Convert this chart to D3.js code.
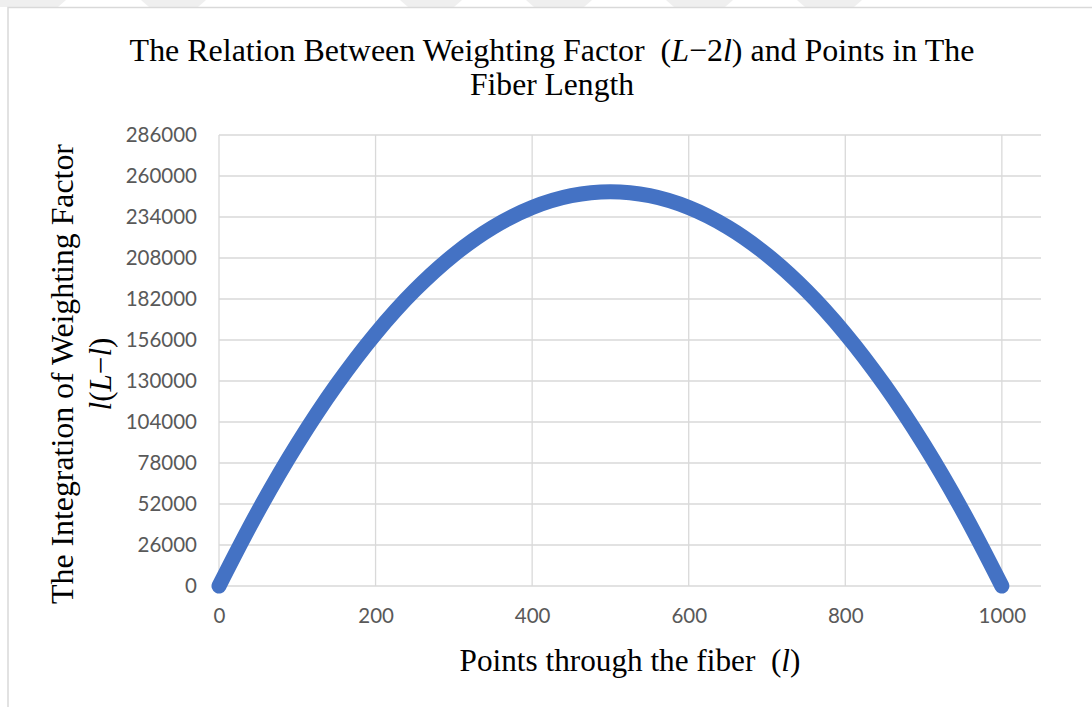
<!DOCTYPE html>
<html>
<head>
<meta charset="utf-8">
<script src="https://cdn.jsdelivr.net/npm/d3@7"></script>
<style>
  body { margin: 0; background: #fff; }
  svg { display: block; }
</style>
</head>
<body>
<div id="chart"></div>
<script>
// values: points along the fiber and l(L-l)
const points = [0, 50, 100, 150, 200, 250, 300, 350, 400, 450, 500,
                550, 600, 650, 700, 750, 800, 850, 900, 950, 1000];
const weights = [0, 47500, 90000, 127500, 160000, 187500, 210000, 227500, 240000, 247500, 250000,
                 247500, 240000, 227500, 210000, 187500, 160000, 127500, 90000, 47500, 0];
const yTicks = [0, 26000, 52000, 78000, 104000, 130000, 156000, 182000, 208000, 234000, 260000, 286000];
const xTicks = [0, 200, 400, 600, 800, 1000];

const width = 1092, height = 707;
const margin = {top: 135, right: 51, bottom: 121, left: 219};

const svg = d3.select("#chart")
  .append("svg")
  .attr("width", width)
  .attr("height", height);

// faint watermark bands above the chart border
const bands = svg.append("g").attr("fill", "#efefef");
[[-20, 60], [141, 200], [400, 456], [526, 586], [666, 727], [797, 856]].forEach(b => {
  bands.append("path").attr("d", `M${b[0]},0 L${b[1] + 6},0 L${b[1] - 2},7 L${b[0] + 8},7 Z`);
});

// chart area border
svg.append("path")
  .attr("d", `M8,${height} L8,7.5 L${width},7.5`)
  .attr("fill", "none")
  .attr("stroke", "#d9d9d9")
  .attr("stroke-width", 1.5);

const xScale = d3.scaleLinear()
  .domain([0, 1050])
  .range([margin.left, width - margin.right]);

const yScale = d3.scaleLinear()
  .domain([0, 286000])
  .range([height - margin.bottom, margin.top]);

// horizontal gridlines
svg.append("g")
  .selectAll("line")
  .data(yTicks)
  .enter()
  .append("line")
    .attr("x1", xScale(0))
    .attr("x2", xScale(1050))
    .attr("y1", d => yScale(d))
    .attr("y2", d => yScale(d))
    .attr("stroke", "#d9d9d9")
    .attr("stroke-width", 1.3);

// vertical gridlines
svg.append("g")
  .selectAll("line")
  .data(xTicks)
  .enter()
  .append("line")
    .attr("x1", d => xScale(d))
    .attr("x2", d => xScale(d))
    .attr("y1", yScale(0))
    .attr("y2", yScale(286000))
    .attr("stroke", "#d9d9d9")
    .attr("stroke-width", 1.3);

// y axis labels
const yAxis = svg.append("g")
  .attr("transform", `translate(${margin.left}, 0)`)
  .call(d3.axisLeft(yScale).tickValues(yTicks).tickSize(0).tickPadding(22).tickFormat(d3.format("d")));
yAxis.select(".domain").remove();
yAxis.selectAll("text")
  .attr("fill", "#595959")
  .attr("font-family", "Lato, 'Open Sans', sans-serif")
  .attr("font-size", "20.5px");

// x axis labels
const xAxis = svg.append("g")
  .attr("transform", `translate(0, ${height - margin.bottom})`)
  .call(d3.axisBottom(xScale).tickValues(xTicks).tickSize(0).tickPadding(22).tickFormat(d3.format("d")));
xAxis.select(".domain").remove();
xAxis.selectAll("text")
  .attr("fill", "#595959")
  .attr("font-family", "Lato, 'Open Sans', sans-serif")
  .attr("font-size", "20.5px");

// the curve
const line = d3.line()
  .x((d, i) => xScale(points[i]))
  .y(d => yScale(d))
  .curve(d3.curveCatmullRom);

svg.append("path")
  .datum(weights)
  .attr("d", line)
  .attr("fill", "none")
  .attr("stroke", "#4472c4")
  .attr("stroke-width", 15)
  .attr("stroke-linecap", "round")
  .attr("stroke-linejoin", "round");

// serif text, squeezed horizontally to the width seen in the picture
function serifText(x, y, parts, targetWidth, size, rotate) {
  const g = svg.append("g")
    .attr("transform", `translate(${x},${y})` + (rotate ? " rotate(-90)" : ""));
  const inner = g.append("g");
  const t = inner.append("text")
    .attr("text-anchor", "middle")
    .attr("font-family", "'Liberation Serif', 'Times New Roman', serif")
    .attr("font-size", size + "px")
    .attr("fill", "#000");
  parts.forEach(p => {
    t.append("tspan").text(p[0]).attr("font-style", p[1] ? "italic" : "normal");
  });
  const w = t.node().getComputedTextLength();
  inner.attr("transform", `scale(${targetWidth / w}, 1)`);
}

serifText(552, 61, [["The Relation Between Weighting Factor \u00a0("], ["L", 1], ["\u22122"], ["l", 1], [") and Points in The"]], 845, 32);
serifText(552, 95, [["Fiber Length"]], 164, 32);
serifText(630, 671, [["Points through the fiber \u00a0("], ["l", 1], [")"]], 341, 31);
serifText(73, 374, [["The Integration of Weighting Factor"]], 460, 31, true);
serifText(111, 374, [["l", 1], ["("], ["L", 1], ["\u2212"], ["l", 1], [")"]], 73, 31, true);
</script>
</body>
</html>
